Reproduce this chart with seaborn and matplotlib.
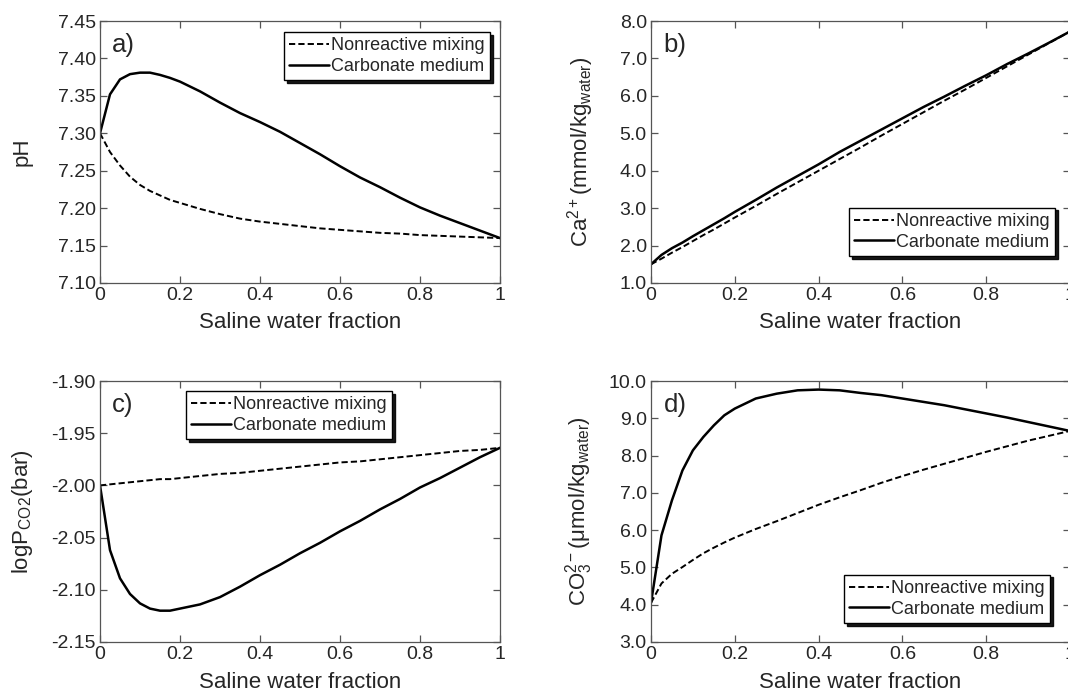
import numpy as np
import pandas as pd
import matplotlib
matplotlib.use("Agg")
import matplotlib.pyplot as plt
import seaborn as sns

# ---------------- data ----------------
x_fine = [0, 0.025, 0.05, 0.075, 0.1, 0.125, 0.15, 0.175, 0.2, 0.25, 0.3, 0.35, 0.4,
          0.45, 0.5, 0.55, 0.6, 0.65, 0.7, 0.75, 0.8, 0.85, 0.9, 0.95, 1.0]

# a) pH
ph_carb = [7.300, 7.352, 7.372, 7.379, 7.381, 7.381, 7.378, 7.374, 7.369, 7.356, 7.341,
           7.327, 7.315, 7.302, 7.287, 7.272, 7.256, 7.241, 7.228, 7.214, 7.201,
           7.190, 7.180, 7.170, 7.160]
ph_nonr = [7.300, 7.275, 7.257, 7.242, 7.231, 7.223, 7.217, 7.211, 7.207, 7.199, 7.192,
           7.186, 7.182, 7.179, 7.176, 7.173, 7.171, 7.169, 7.167, 7.166, 7.164, 7.163,
           7.162, 7.161, 7.160]

# b) Ca2+
ca_carb = [1.50, 1.75, 1.93, 2.08, 2.25, 2.41, 2.57, 2.73, 2.90, 3.22, 3.55, 3.86, 4.17,
           4.50, 4.80, 5.10, 5.40, 5.70, 5.98, 6.27, 6.55, 6.85, 7.13, 7.42, 7.72]
ca_nonr = [1.50, 1.65, 1.81, 1.96, 2.12, 2.28, 2.43, 2.59, 2.75, 3.06, 3.38, 3.69, 4.00,
           4.31, 4.62, 4.94, 5.25, 5.56, 5.87, 6.17, 6.48, 6.79, 7.10, 7.41, 7.72]

# c) logPCO2
pco2_carb = [-2.000, -2.062, -2.089, -2.104, -2.113, -2.118, -2.120, -2.120, -2.118,
             -2.114, -2.107, -2.097, -2.086, -2.076, -2.065, -2.055, -2.044, -2.034,
             -2.023, -2.013, -2.002, -1.993, -1.983, -1.973, -1.964]
pco2_nonr = [-2.000, -1.999, -1.998, -1.997, -1.996, -1.995, -1.994, -1.994, -1.993,
             -1.991, -1.989, -1.988, -1.986, -1.984, -1.982, -1.980, -1.978, -1.977,
             -1.975, -1.973, -1.971, -1.969, -1.967, -1.966, -1.964]

# d) CO3 2-
co3_carb = [4.05, 5.86, 6.80, 7.60, 8.14, 8.50, 8.81, 9.08, 9.26, 9.53, 9.66, 9.75, 9.77,
            9.75, 9.68, 9.62, 9.53, 9.44, 9.35, 9.24, 9.13, 9.02, 8.90, 8.78, 8.66]
co3_nonr = [4.05, 4.57, 4.83, 5.01, 5.20, 5.38, 5.53, 5.67, 5.80, 6.03, 6.24, 6.46, 6.68,
            6.88, 7.07, 7.27, 7.45, 7.62, 7.78, 7.94, 8.10, 8.25, 8.40, 8.53, 8.66]

xticks_ab = [0, 0.2, 0.4, 0.6, 0.8, 1]
xtick_labels = ["0", "0.2", "0.4", "0.6", "0.8", "1"]
label_nonr = "Nonreactive mixing"
label_carb = "Carbonate medium"
xlabel = "Saline water fraction"

# ---------------- style ----------------
sns.set_theme(style="ticks")
plt.rcParams["font.family"] = ["Liberation Sans", "DejaVu Sans"]
plt.rcParams["mathtext.fontset"] = "custom"
plt.rcParams["mathtext.rm"] = "Liberation Sans"
plt.rcParams["mathtext.it"] = "Liberation Sans"
plt.rcParams["xtick.direction"] = "in"
plt.rcParams["ytick.direction"] = "in"
plt.rcParams["axes.edgecolor"] = "#555555"

fig = plt.figure(figsize=(10.68, 6.96), dpi=100)
W, H = 1068, 696

def make_ax(l, t, r, b):
    return fig.add_axes([l / W, 1 - b / H, (r - l) / W, (b - t) / H])

axa = make_ax(100, 21, 500, 283)
axb = make_ax(651, 21, 1070, 283)
axc = make_ax(100, 381, 500, 642)
axd = make_ax(651, 381, 1070, 642)

panels = [
    (axa, ph_carb, ph_nonr, (7.10, 7.45), np.arange(7.10, 7.451, 0.05), "%.2f", "pH", "a)",
     18, dict(loc="upper right", bbox_to_anchor=(0.975, 0.958))),
    (axb, ca_carb, ca_nonr, (1.0, 8.0), np.arange(1.0, 8.01, 1.0), "%.1f",
     r"Ca$^{\mathregular{2+}}$(mmol/kg$_{\mathregular{water}}$)", "b)",
     17, dict(loc="lower right", bbox_to_anchor=(0.964, 0.103))),
    (axc, pco2_carb, pco2_nonr, (-2.15, -1.90), np.arange(-2.15, -1.899, 0.05), "%.2f",
     r"logP$_{\mathregular{CO2}}$(bar)", "c)",
     12, dict(loc="upper center", bbox_to_anchor=(0.4725, 0.962))),
    (axd, co3_carb, co3_nonr, (3.0, 10.0), np.arange(3.0, 10.01, 1.0), "%.1f",
     r"CO$_{\mathregular{3}}^{\mathregular{2-}}$($\mathregular{\mu}$mol/kg$_{\mathregular{water}}$)", "d)",
     10, dict(loc="lower right", bbox_to_anchor=(0.952, 0.073))),
]

for ax, carb, nonr, ylim, yt, fmt, ylab, letter, lpad, legkw in panels:
    sns.lineplot(x=x_fine, y=nonr, ax=ax, color="black", linestyle=(0, (3.2, 1.6)),
                 linewidth=1.4, label=label_nonr)
    sns.lineplot(x=x_fine, y=carb, ax=ax, color="black", linestyle="-",
                 linewidth=1.8, label=label_carb)
    ax.set_xlim(0, 1)
    ax.set_ylim(*ylim)
    ax.set_xticks(xticks_ab)
    ax.set_xticklabels(xtick_labels)
    ax.set_yticks(yt)
    ax.set_yticklabels([fmt % v for v in yt])
    ax.tick_params(axis="both", which="both", direction="in", top=True, right=True,
                   length=5, width=0.9, color="#555555", labelsize=14, pad=3)
    for s in ax.spines.values():
        s.set_linewidth(0.9)
    ax.set_xlabel(xlabel, fontsize=16, labelpad=6)
    ax.set_ylabel(ylab, fontsize=16, labelpad=lpad)
    ax.text(0.03, 0.955, letter, transform=ax.transAxes, fontsize=18.5, va="top", ha="left")
    leg = ax.legend(frameon=True, fancybox=False, shadow={"color": "black", "alpha": 0.9},
                    edgecolor="black", framealpha=1, fontsize=13, handlelength=2.2,
                    handletextpad=0.1, borderpad=0.3, labelspacing=0.2,
                    borderaxespad=0.0, **legkw)
    leg.get_frame().set_linewidth(1.0)

fig.savefig("out.png", dpi=100, facecolor="white")
